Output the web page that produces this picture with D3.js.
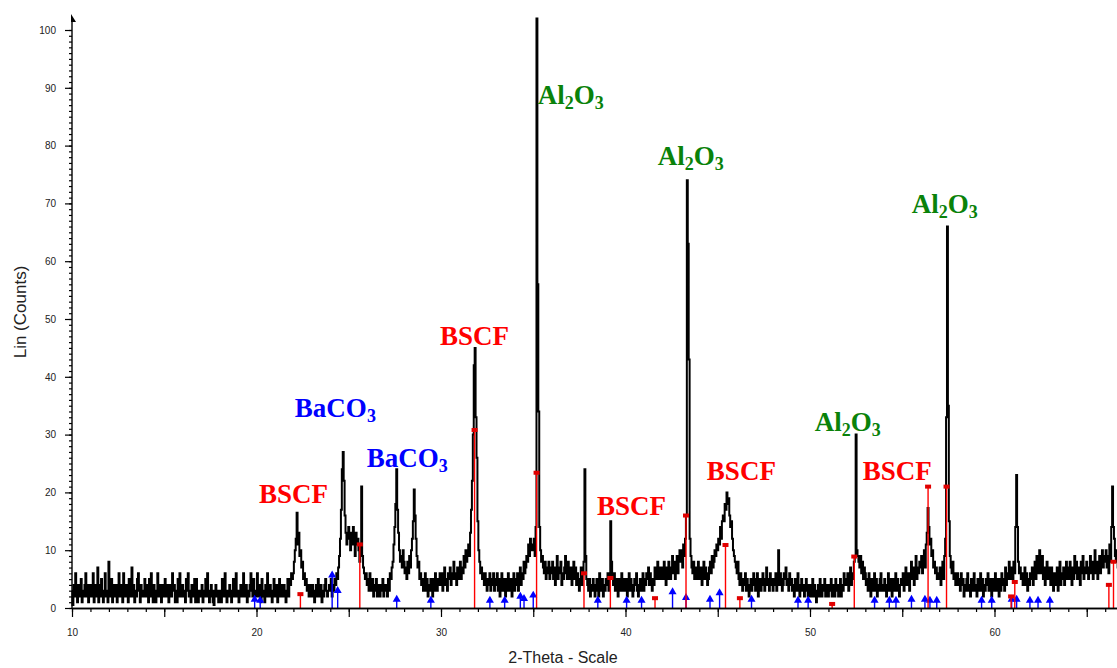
<!DOCTYPE html>
<html><head><meta charset="utf-8">
<script src="https://cdn.jsdelivr.net/npm/d3@7"></script>
<style>body{margin:0;background:#fff;} svg{display:block;}</style>
</head><body>
<svg id="chart" width="1117" height="668"></svg>
<script>
const startAngle = 10.0;
const stepAngle = 0.05;
const counts = [
/*10*/ 3,0.5,4,2,6,3,1,4,2,3,5,1,3,2,4,6,2,4,1,3,
/*11*/ 4,2,3,6,1,3,4,2,7,1,4,2,5,3,1,3,6,2,3,1,
/*12*/ 8,3,2,5,1,4,3,2,4,1,3,6,2,3,4,1,6,3,2,4,
/*13*/ 3,1,5,2,3,7,2,4,1,3,2,5,6,3,1,4,2,3,2,5,
/*14*/ 2,4,3,1,5,2,6,3,1,4,3,1,3,6,2,4,3,1,4,2,
/*15*/ 3,5,2,4,3,1,4,3,2,6,3,4,1,3,1,5,2,6,3,2,
/*16*/ 4,2,3,1,5,3,6,2,3,1,4,2,3,5,1,5,3,1,3,2,
/*17*/ 3,4,1,3,2,5,2,6,3,1,2,4,3,1,0.5,3,4,2,3,1,
/*18*/ 2,3,1,5,2,3,6,2,1,3,2,4,3,1,2,5,2,3,6,2,
/*19*/ 3,1,2,4,3,2,6,3,2,4,1,3,2,4,6,3,2,5,3,2,
/*20*/ 3,6,2,4,3,1,5,2,3,1,4,2,6,3,2,4,3,1,2,5,
/*21*/ 3,2,4,1,3,5,2,4,3,2,4,3,1,3,5,2,5,4,6,5,
/*22*/ 6,8,10,12,16.5,11,13,9,10,7,8,5,6,4,5,3,4,2,4,3,
/*23*/ 2,4,3,1,3,4,2,5,3,2,4,1,3,2,4,5,3,2,3,4,
/*24*/ 3,5,2,4,3,5,4,6,5,7,9,12,17,24,27,22,16,13,11,12,
/*25*/ 14,12,10,13,11,14,12,9,13,11,12,10,8,11,21,9,7,6,5,6,
/*26*/ 4,5,3,6,4,3,5,2,4,3,5,2,4,3,2,4,3,5,2,4,
/*27*/ 3,4,2,5,3,6,5,7,8,11,14,18,24,17,13,10,8,9,7,10,
/*28*/ 8,6,7,5,8,6,9,7,10,12,15,20.5,16,12,9,7,8,5,6,4,
/*29*/ 5,3,4,6,3,5,2,4,3,5,4,2,5,3,6,4,3,5,4,6,
/*30*/ 4,6,3,5,7,4,5,3,6,5,7,4,6,5,8,5,6,4,7,5,
/*31*/ 6,8,5,7,6,9,7,10,8,9,11,9,13,17,22,30,42,45,33,26,
/*32*/ 15,10,8,6,7,5,6,4,6,5,3,5,4,6,3,5,4,6,3,5,
/*33*/ 4,6,3,5,2,4,6,3,5,4,2,5,3,6,4,3,5,2,4,6,
/*34*/ 3,5,4,6,3,5,7,4,6,5,8,6,7,9,8,11,9,12,10,11,
/*35*/ 10,12,9,14,102,56,34,14,10,8,9,7,6,8,5,7,6,8,5,7,
/*36*/ 6,8,5,7,4,6,9,5,7,6,8,4,6,5,7,9,6,5,8,6,
/*37*/ 5,7,4,6,8,5,7,4,6,5,3,5,7,4,6,8,24,9,5,4,
/*38*/ 3,5,2,4,3,5,4,2,3,5,4,2,6,3,4,5,2,4,3,5,
/*39*/ 4,6,3,5,15,8,5,4,6,3,5,4,2,5,3,4,6,3,5,4,
/*40*/ 3,5,2,4,6,3,5,4,2,3,5,4,6,3,2,4,5,3,4,6,
/*41*/ 3,5,4,6,5,7,4,6,5,3,5,4,7,5,6,8,5,7,6,5,
/*42*/ 7,5,8,6,4,7,5,8,6,5,7,9,6,8,5,7,9,6,8,10,
/*43*/ 8,10,7,11,9,12,16,74,63,43,12,9,7,6,8,5,7,6,5,8,
/*44*/ 6,5,7,4,6,8,5,7,6,4,5,7,8,6,9,7,8,10,9,11,
/*45*/ 10,12,11,14,12,15,16,15,18,17,20,18,19,16,14,15,12,10,9,8,
/*46*/ 7,6,8,5,4,6,5,3,5,4,6,3,5,4,2,4,5,3,4,6,
/*47*/ 5,3,4,6,2,5,4,3,5,6,4,3,5,7,4,5,3,6,4,5,
/*48*/ 3,5,4,6,3,5,10,4,6,5,3,4,6,5,7,4,5,3,6,4,
/*49*/ 5,3,4,2,5,3,4,6,3,2,4,5,3,4,2,3,5,4,2,3,
/*50*/ 4,2,3,5,2,4,3,1,3,4,2,5,3,2,4,3,5,2,4,3,
/*51*/ 2,4,3,5,2,3,4,2,5,3,4,2,3,5,2,4,3,6,4,5,
/*52*/ 4,6,3,5,7,4,6,5,8,9,30,10,9,8,7,9,6,8,5,7,
/*53*/ 6,4,5,3,6,4,2,5,3,4,6,3,5,2,4,3,5,6,3,4,
/*54*/ 3,5,4,2,4,6,3,5,4,2,5,3,4,6,3,5,4,2,4,5,
/*55*/ 4,6,3,5,7,4,6,5,3,6,8,5,7,4,6,9,5,7,6,8,
/*56*/ 7,9,6,8,10,7,11,13,17.3,14,11,12,9,10,7,8,6,7,5,6,
/*57*/ 5,7,4,6,8,5,9,12,33,66,35,15,9,7,6,8,5,6,4,5,
/*58*/ 6,4,5,3,6,4,5,2,4,3,5,6,3,4,2,5,3,4,6,3,
/*59*/ 4,2,5,3,4,6,3,5,2,4,3,5,4,6,3,5,4,2,5,3,
/*60*/ 4,6,3,5,4,2,5,3,6,4,5,3,7,4,5,6,8,5,7,6,
/*61*/ 5,8,6,14,23,14,8,6,7,5,6,4,5,7,4,6,3,5,4,6,
/*62*/ 5,7,4,6,8,5,9,7,6,10,8,6,9,5,7,4,6,8,5,7,
/*63*/ 6,4,7,5,3,6,4,5,7,3,5,8,4,6,5,7,4,6,8,5,
/*64*/ 7,5,8,6,4,7,5,9,6,8,5,7,6,4,8,6,9,5,7,6,
/*65*/ 8,6,5,7,9,6,8,5,7,10,6,8,5,7,9,6,8,10,7,9,
/*66*/ 8,10,7,9,6,11,8,14,21,14,12,9,8,10,7,9,6,8,7,9
];

// BSCF reference lines (red)
const bscfAngles = [22.38, 25.6, 31.82, 35.18, 37.75, 39.18, 41.6, 43.28, 45.42, 46.2, 51.2, 52.4, 56.4, 57.4, 60.9, 61.1, 66.2, 66.45];
const bscfHeights = [2.4, 11, 30.8, 23.4, 6, 5.2, 1.7, 16, 10.9, 1.7, 0.7, 8.9, 21, 21, 2, 4.5, 4, 8];

// BaCO3 reference lines (blue)
const bacoAngles = [19.9, 20.2, 24.1, 24.4, 27.6, 29.45, 32.65, 33.45, 34.3, 34.5, 35.0, 38.5, 40.06, 40.87, 42.55, 43.28, 44.58, 45.1, 46.83, 49.35, 49.9, 53.5, 54.3, 54.66, 55.5, 56.23, 56.5, 56.87, 59.3, 59.85, 60.93, 61.2, 61.92, 62.36, 63.0];
const bacoHeights = [1.5, 1.3, 5.7, 3, 1.5, 1.3, 1.3, 1.3, 2, 1.6, 2.2, 1.3, 1.3, 1.3, 2.8, 1.8, 1.5, 2.6, 1.5, 1.3, 1.3, 1.3, 1.3, 1.3, 1.5, 1.5, 1.3, 1.3, 1.3, 1.3, 1.5, 1.5, 1.3, 1.3, 1.3];

// Phase annotations
const labelMain = ["BSCF", "BaCO", "BaCO", "BSCF", "Al|O", "Al|O", "Al|O", "Al|O", "BSCF", "BSCF", "BSCF"];
const labelAngle = [20.13, 22.08, 25.98, 29.94, 35.25, 41.75, 55.52, 50.26, 38.45, 44.41, 52.86];
const labelCount = [18.2, 33.0, 24.4, 45.5, 87.2, 76.6, 68.3, 30.6, 16.1, 22.1, 22.1];
const labelPhase = ["bscf", "baco", "baco", "bscf", "al", "al", "al", "al", "bscf", "bscf", "bscf"];

const xTicks = [10, 20, 30, 40, 50, 60];
const yTicks = [0, 10, 20, 30, 40, 50, 60, 70, 80, 90, 100];

const colors = {bscf: "#ff0000", baco: "#0000ff", al: "#0a820a"};

const svg = d3.select("#chart");
const x = d3.scaleLinear().domain([10, 66.64]).range([72, 1117]);
const y = d3.scaleLinear().domain([0, 100]).range([608, 30]);

// pattern
const line = d3.line()
  .x((d, i) => x(startAngle + i * stepAngle))
  .y(d => y(d))
  .curve(d3.curveStep);
svg.append("path").datum(counts)
  .attr("d", line).attr("fill", "none")
  .attr("stroke", "#000").attr("stroke-width", 2)
  .attr("stroke-linejoin", "miter");

// BaCO3 sticks + triangles
const bacoData = bacoAngles.map((a, i) => ({a, h: bacoHeights[i]}));
svg.append("g").selectAll("line").data(bacoData).join("line")
  .attr("x1", d => x(d.a)).attr("x2", d => x(d.a))
  .attr("y1", y(0)).attr("y2", d => y(d.h))
  .attr("stroke", colors.baco).attr("stroke-width", 1.4);
svg.append("g").selectAll("path").data(bacoData).join("path")
  .attr("d", d3.symbol().type(d3.symbolTriangle).size(28))
  .attr("transform", d => `translate(${x(d.a)},${y(d.h)})`)
  .attr("fill", colors.baco);

// BSCF sticks + markers
const bscfData = bscfAngles.map((a, i) => ({a, h: bscfHeights[i]}));
svg.append("g").selectAll("line").data(bscfData).join("line")
  .attr("x1", d => x(d.a)).attr("x2", d => x(d.a))
  .attr("y1", y(0)).attr("y2", d => y(d.h))
  .attr("stroke", colors.bscf).attr("stroke-width", 1.4);
svg.append("g").selectAll("rect").data(bscfData).join("rect")
  .attr("x", d => x(d.a) - 3).attr("y", d => y(d.h) - 2)
  .attr("width", 6).attr("height", 4)
  .attr("fill", "#e00000");

// axes
const axisFont = "'Liberation Sans', Arial, sans-serif";
const gxMinor = svg.append("g").attr("transform", `translate(0,${y(0)})`)
  .call(d3.axisBottom(x).tickValues(d3.range(10, 67, 1)).tickSize(4).tickFormat("").tickSizeOuter(0));
const gxMid = svg.append("g").attr("transform", `translate(0,${y(0)})`)
  .call(d3.axisBottom(x).tickValues(d3.range(10, 67, 5)).tickSize(9).tickSizeOuter(0)
    .tickFormat(d => xTicks.includes(d) ? d : "").tickPadding(12));
[gxMinor, gxMid].forEach(g => {
  g.select(".domain").attr("stroke", "#000").attr("stroke-width", 1.4);
  g.selectAll(".tick line").attr("stroke", "#000").attr("stroke-width", 1.2);
  g.selectAll("text").attr("font-family", axisFont).attr("font-size", 10).attr("fill", "#222");
});

const gyMinor = svg.append("g").attr("transform", `translate(${x(10)},0)`)
  .call(d3.axisLeft(y).tickValues(d3.range(0, 101, 1)).tickSize(3).tickFormat("").tickSizeOuter(0));
const gyMajor = svg.append("g").attr("transform", `translate(${x(10)},0)`)
  .call(d3.axisLeft(y).tickValues(yTicks).tickSize(7).tickPadding(9).tickSizeOuter(0));
[gyMinor, gyMajor].forEach(g => {
  g.select(".domain").remove();
  g.selectAll(".tick line").attr("stroke", "#000").attr("stroke-width", 1.2);
  g.selectAll("text").attr("font-family", axisFont).attr("font-size", 10).attr("fill", "#222");
});
svg.append("line").attr("x1", x(10)).attr("x2", x(10)).attr("y1", y(0)).attr("y2", 18)
  .attr("stroke", "#000").attr("stroke-width", 1.4);
svg.append("path").attr("d", `M${x(10) - 1},14 L${x(10) + 4},22 L${x(10) - 1},22 Z`).attr("fill", "#000");

// axis titles
svg.append("text").attr("x", 563).attr("y", 663).attr("text-anchor", "middle")
  .attr("font-family", axisFont).attr("font-size", 16).attr("fill", "#222").text("2-Theta - Scale");
svg.append("text").attr("transform", "translate(26,312) rotate(-90)").attr("text-anchor", "middle")
  .attr("font-family", axisFont).attr("font-size", 17).attr("fill", "#222").text("Lin (Counts)");

// annotations
const serif = "'Liberation Serif', 'Times New Roman', serif";
labelMain.forEach((txt, i) => {
  const t = svg.append("text").attr("x", x(labelAngle[i])).attr("y", y(labelCount[i]))
    .attr("font-family", serif).attr("font-weight", "bold").attr("font-size", 27)
    .attr("fill", colors[labelPhase[i]]);
  if (labelPhase[i] === "al") {
    const parts = txt.split("|");
    t.append("tspan").text(parts[0]);
    t.append("tspan").attr("font-size", 18).attr("dy", 5).text("2");
    t.append("tspan").attr("dy", -5).text(parts[1]);
    t.append("tspan").attr("font-size", 18).attr("dy", 5).text("3");
  } else if (labelPhase[i] === "baco") {
    t.append("tspan").text(txt);
    t.append("tspan").attr("font-size", 18).attr("dy", 5).text("3");
  } else {
    t.text(txt);
  }
});
</script>
</body></html>
